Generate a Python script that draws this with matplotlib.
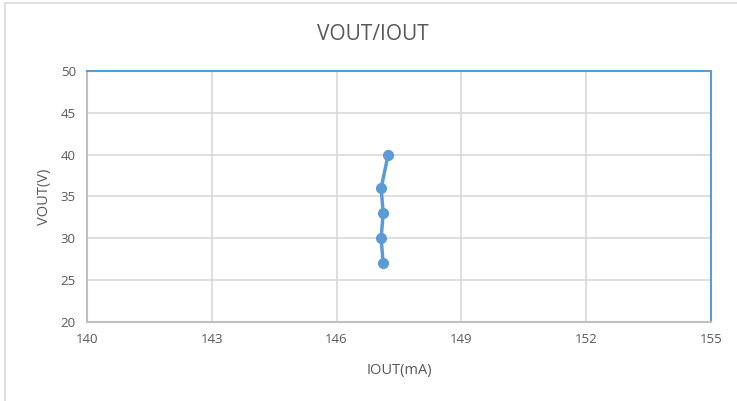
import matplotlib.pyplot as plt
from matplotlib.patches import Rectangle

# data
iout_ma = [147.12, 147.07, 147.12, 147.07, 147.24]
vout_v = [27, 30, 33, 36, 40]

x_ticks = [140, 143, 146, 149, 152, 155]
y_ticks = [20, 25, 30, 35, 40, 45, 50]

plt.rcParams['font.family'] = ['Open Sans', 'DejaVu Sans']

fig = plt.figure(figsize=(7.37, 4.01), dpi=100)
ax = fig.add_axes([87 / 737, 1 - 322 / 401, 624 / 737, 251 / 401])

# outer chart frame (cut off at right and bottom)
fig.patches.append(Rectangle((5 / 737, -0.1), 1.2, 1 - 3 / 401 + 0.1,
                             transform=fig.transFigure, fill=False,
                             edgecolor='#d9d9d9', linewidth=1.2))

ax.plot(iout_ma, vout_v, color='#5b9bd5', linewidth=2.5, marker='o',
        markersize=7, zorder=3)

ax.set_xlim(140, 155)
ax.set_ylim(20, 50)
ax.set_xticks(x_ticks)
ax.set_yticks(y_ticks)
ax.grid(True, color='#d9d9d9', linewidth=1.2)
ax.set_axisbelow(True)
ax.tick_params(length=0, labelsize=9.5, colors='#595959', pad=8)

ax.spines['top'].set_color('#5b9bd5')
ax.spines['right'].set_color('#5b9bd5')
ax.spines['left'].set_color('#bfbfbf')
ax.spines['bottom'].set_color('#bfbfbf')
for s in ax.spines.values():
    s.set_linewidth(1.5)

# title sits centred on the whole chart, not the plot area
fig.text(373 / 737, 1 - 35 / 401, 'VOUT/IOUT', fontsize=15, color='#595959',
         ha='center', va='center')
ax.set_xlabel('IOUT(mA)', fontsize=10.5, color='#595959', labelpad=12)
ax.set_ylabel('VOUT(V)', fontsize=10.5, color='#595959', labelpad=6)

fig.savefig('out.png', dpi=100)
